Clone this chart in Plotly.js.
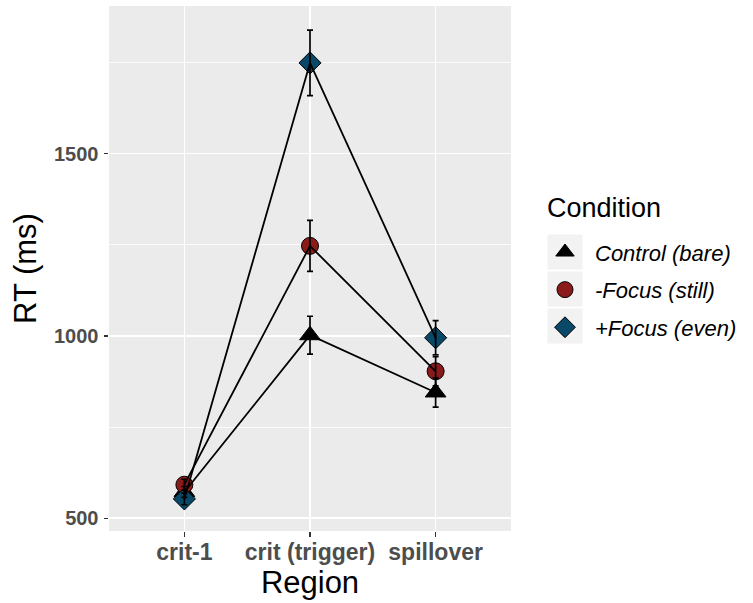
<!DOCTYPE html>
<html>
<head>
<meta charset="utf-8">
<script src="https://cdn.plot.ly/plotly-3.0.1.min.js"></script>
<style>
  html, body { margin: 0; padding: 0; background: #ffffff; }
  #chart { width: 753px; height: 603px; }
</style>
</head>
<body>
<div id="chart"></div>
<script>
// Reading times by region for the three focus conditions (mean ± SE)
const regions = ["crit-1", "crit (trigger)", "spillover"];
const conditions = ["Control (bare)", "-Focus (still)", "+Focus (even)"];

const controlRT = [572, 1002, 845];
const controlSE = [15, 52, 40];
const minusFocusRT = [592, 1247, 903];
const minusFocusSE = [15, 70, 40];
const plusFocusRT = [553, 1749, 995];
const plusFocusSE = [16, 90, 47];

const yTickVals = [500, 1000, 1500];
const yTickText = ["500", "1000", "1500"];

const FONT = "Liberation Sans, Arial, Helvetica, sans-serif";

const series = [
  { name: conditions[0], y: controlRT, se: controlSE, symbol: "triangle-up", color: "#000000", size: 18 },
  { name: conditions[1], y: minusFocusRT, se: minusFocusSE, symbol: "circle", color: "#8B1A1A", size: 17 },
  { name: conditions[2], y: plusFocusRT, se: plusFocusSE, symbol: "diamond", color: "#0A4868", size: 17 }
];

const traces = [];

// points first, so the connecting lines and error bars sit on top
series.forEach((s, i) => {
  traces.push({
    type: "scatter",
    mode: "markers",
    x: regions,
    y: s.y,
    name: s.name,
    legendgroup: "g" + i,
    marker: {
      symbol: s.symbol,
      size: s.size,
      color: s.color,
      line: { color: "#000000", width: 1 }
    },
    hoverinfo: "x+y+name"
  });
});

series.forEach((s, i) => {
  traces.push({
    type: "scatter",
    mode: "lines",
    x: regions,
    y: s.y,
    name: s.name,
    legendgroup: "g" + i,
    showlegend: false,
    line: { color: "#000000", width: 1.8 },
    error_y: {
      type: "data",
      array: s.se,
      visible: true,
      color: "#000000",
      thickness: 1.7,
      width: 3
    },
    hoverinfo: "skip"
  });
});

// grey key panels behind the legend symbols
const keyX0 = 1.0908, keyX1 = 1.1779;
const keyRows = [[0.4981, 0.5648], [0.4276, 0.4943], [0.3571, 0.4238]];
const keyShapes = keyRows.map(r => ({
  type: "rect", xref: "paper", yref: "paper",
  x0: keyX0, x1: keyX1, y0: r[0], y1: r[1],
  fillcolor: "#F2F2F2", line: { width: 0 }, layer: "below"
}));

const layout = {
  width: 753,
  height: 603,
  margin: { l: 109, r: 242, t: 6, b: 72 },
  paper_bgcolor: "#ffffff",
  plot_bgcolor: "#EBEBEB",
  font: { family: FONT, color: "#000000" },
  showlegend: true,
  shapes: keyShapes,
  annotations: [{
    text: "Condition",
    xref: "paper", yref: "paper",
    x: 1.0846, y: 0.6152,
    xanchor: "left", yanchor: "middle",
    showarrow: false,
    font: { family: FONT, size: 27, color: "#000000" }
  }],
  xaxis: {
    type: "category",
    range: [-0.6, 2.6],
    showgrid: true,
    gridcolor: "#ffffff",
    gridwidth: 1.6,
    zeroline: false,
    showline: false,
    ticks: "outside",
    ticklen: 4.5,
    tickwidth: 1.2,
    tickcolor: "#333333",
    ticklabelstandoff: -4,
    tickfont: { family: FONT, size: 23, color: "#4D4D4D", weight: "bold" },
    title: { text: "Region", font: { family: FONT, size: 31, color: "#000000" }, standoff: 2 }
  },
  yaxis: {
    range: [465, 1905],
    tickvals: yTickVals,
    ticktext: yTickText,
    showgrid: true,
    gridcolor: "#ffffff",
    gridwidth: 1.6,
    minor: { tick0: 250, dtick: 500, showgrid: true, gridcolor: "#ffffff", gridwidth: 0.8, ticks: "" },
    zeroline: false,
    showline: false,
    ticks: "outside",
    ticklen: 4.5,
    tickwidth: 1.2,
    tickcolor: "#333333",
    ticklabelstandoff: 1,
    tickfont: { family: FONT, size: 20, color: "#4D4D4D", weight: "bold" },
    title: { text: "RT (ms)", font: { family: FONT, size: 31, color: "#000000" }, standoff: 8 }
  },
  legend: {
    x: 1.0597,
    xanchor: "left",
    y: 0.571,
    yanchor: "top",
    bgcolor: "rgba(0,0,0,0)",
    traceorder: "grouped",
    tracegroupgap: 6,
    itemwidth: 50,
    itemsizing: "trace",
    font: { family: FONT, size: 22, color: "#000000", style: "italic" }
  }
};

Plotly.newPlot("chart", traces, layout, { displayModeBar: false, staticPlot: true });
</script>
</body>
</html>
